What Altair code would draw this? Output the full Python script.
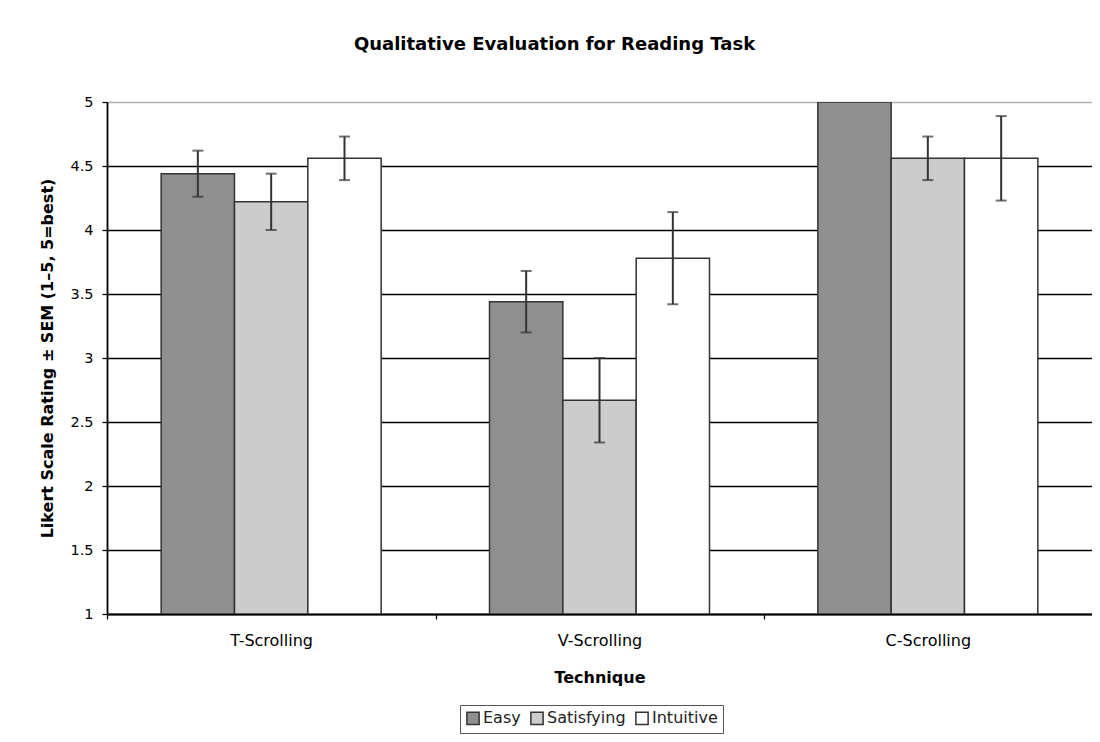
import altair as alt
import pandas as pd

techniques = ["T-Scrolling", "V-Scrolling", "C-Scrolling"]
measures = ["Easy", "Satisfying", "Intuitive"]
easy_mean = [4.44, 3.44, 5.00]
easy_sem = [0.18, 0.24, 0.0]
satisfying_mean = [4.22, 2.67, 4.56]
satisfying_sem = [0.22, 0.33, 0.17]
intuitive_mean = [4.56, 3.78, 4.56]
intuitive_sem = [0.17, 0.36, 0.33]
y_ticks = [1, 1.5, 2, 2.5, 3, 3.5, 4, 4.5, 5]
colors = ["#8f8f8f", "#cccccc", "#ffffff"]

rows = []
for m, means, sems in zip(measures,
                          [easy_mean, satisfying_mean, intuitive_mean],
                          [easy_sem, satisfying_sem, intuitive_sem]):
    for t, v, s in zip(techniques, means, sems):
        rows.append({"technique": t, "measure": m, "mean": v, "sem": s,
                     "lo": v - s, "hi": v + s})
df = pd.DataFrame(rows)
err = df[df["sem"] > 0]

FONT = "DejaVu Sans"

x_enc = alt.X("technique:N", sort=techniques,
              scale=alt.Scale(paddingInner=0.33, paddingOuter=0.165),
              axis=alt.Axis(title="Technique", labelAngle=0, bandPosition=0,
                            tickOffset=-54, labelOffset=54, labelFontSize=16, labelFont=FONT,
                            labelColor="#000", labelPadding=13,
                            tickColor="#000", tickSize=5, tickWidth=1.2,
                            domainColor="#000", domainWidth=1.8,
                            titleFont=FONT, titleFontSize=16, titleFontWeight="bold",
                            titleColor="#000", titleBaseline="middle", titleY=63))
xo_enc = alt.XOffset("measure:N", sort=measures,
                     scale=alt.Scale(paddingInner=0, paddingOuter=0))
y_scale = alt.Scale(domain=[1, 5], nice=False, zero=False)

bars = alt.Chart(df).mark_bar(stroke="#333333", strokeWidth=1.5, clip=True).encode(
    x=x_enc,
    xOffset=xo_enc,
    y=alt.Y("mean:Q", scale=y_scale,
            axis=alt.Axis(values=y_ticks, format="~g",
                          title="Likert Scale Rating ± SEM (1–5, 5=best)",
                          labelFontSize=14.5, labelFont=FONT, labelColor="#000",
                          labelPadding=9, tickColor="#000", tickSize=5, tickWidth=1.2,
                          domainColor="#000", domainWidth=1.8,
                          grid=True,
                          gridColor=alt.condition("datum.value == 5", alt.value("#b0b0b0"), alt.value("#000000")),
                          gridWidth=1.3,
                          titleFont=FONT, titleFontSize=16, titleFontWeight="bold",
                          titleColor="#000", titleX=-60, titleY=256,
                          titleAngle=-90, titleBaseline="middle")),
    y2=alt.Y2(datum=1),
    color=alt.Color("measure:N", sort=measures,
                    scale=alt.Scale(domain=measures, range=colors),
                    legend=alt.Legend(title=None, orient="none", direction="horizontal",
                                      legendX=353, legendY=603,
                                      symbolType="square", symbolSize=150,
                                      symbolStrokeColor="#333333", symbolStrokeWidth=1.5,
                                      labelFont=FONT, labelFontSize=16, labelColor="#222",
                                      labelOffset=2, columnPadding=6,
                                      strokeColor="#555555", padding=5,
                                      fillColor="#ffffff")),
)

rules = alt.Chart(err).mark_rule(color="#333333", strokeWidth=2).encode(
    x=alt.X("technique:N", sort=techniques),
    xOffset=alt.XOffset("measure:N", sort=measures),
    y=alt.Y("lo:Q", scale=y_scale),
    y2="hi:Q",
)
caps_lo = alt.Chart(err).mark_tick(color="#333333", thickness=2, size=11, orient="horizontal").encode(
    x=alt.X("technique:N", sort=techniques),
    xOffset=alt.XOffset("measure:N", sort=measures),
    y=alt.Y("lo:Q", scale=y_scale),
)
caps_hi = alt.Chart(err).mark_tick(color="#333333", thickness=2, size=11, orient="horizontal").encode(
    x=alt.X("technique:N", sort=techniques),
    xOffset=alt.XOffset("measure:N", sort=measures),
    y=alt.Y("hi:Q", scale=y_scale),
)

chart = alt.layer(bars, rules, caps_lo, caps_hi).properties(
    width=985, height=512,
    title=alt.TitleParams("Qualitative Evaluation for Reading Task", font=FONT,
                          fontSize=18, fontWeight="bold", color="#000",
                          anchor="middle", frame="group", dx=-45, offset=40),
    autosize=alt.AutoSizeParams(type="none"),
    padding={"left": 99, "top": 94, "right": 0, "bottom": 120},
).configure_view(stroke=None).configure(background="#ffffff")

chart.save("out.html", embed_options={"renderer": "svg", "actions": False})
